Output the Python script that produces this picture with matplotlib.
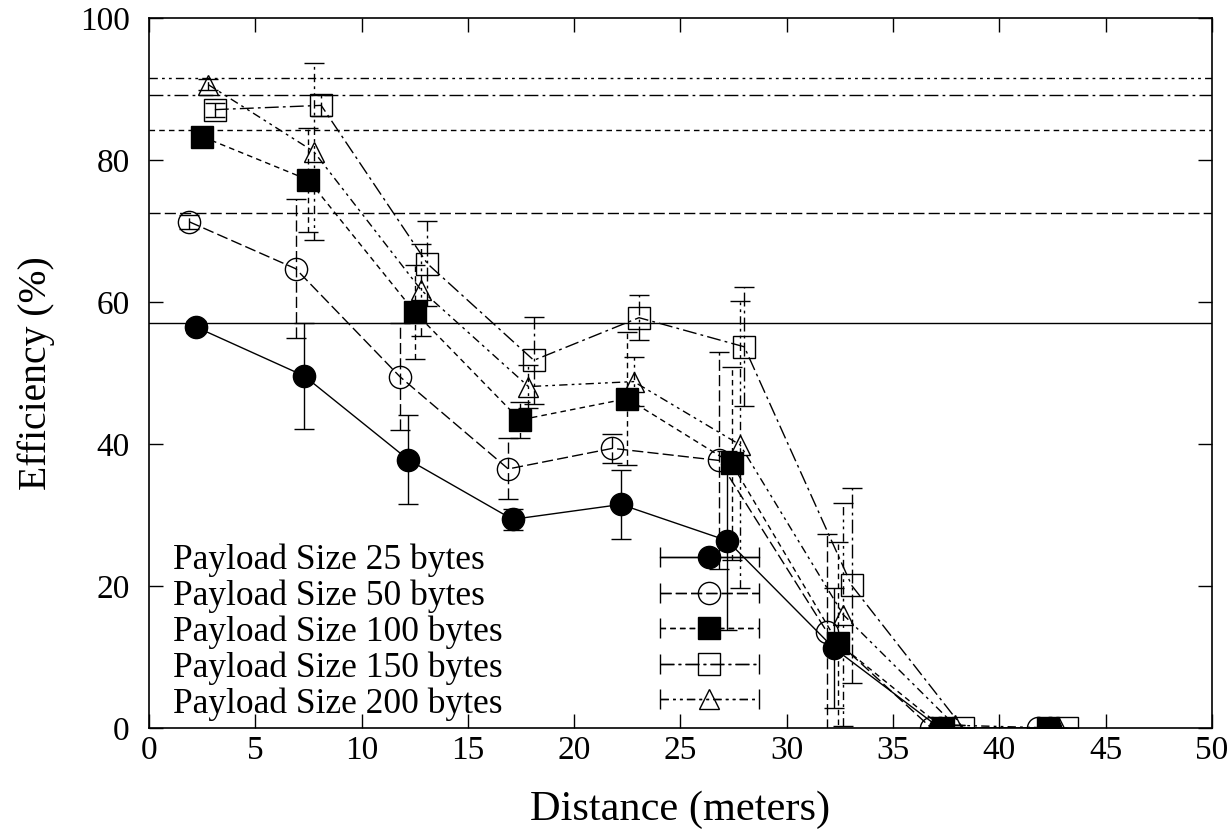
import numpy as np
import matplotlib
matplotlib.use('Agg')
import matplotlib.pyplot as plt
from matplotlib.container import ErrorbarContainer
from matplotlib.legend_handler import HandlerErrorbar

plt.rcParams['font.family'] = ['Liberation Serif', 'DejaVu Serif']

# Measured efficiency (%) vs distance (m), one set per payload size
labels = ['Payload Size 25 bytes', 'Payload Size 50 bytes', 'Payload Size 100 bytes',
          'Payload Size 150 bytes', 'Payload Size 200 bytes']

x25 = [2.2, 7.3, 12.2, 17.1, 22.2, 27.2, 32.2, 37.2, 42.4]
eff25 = [56.5, 49.6, 37.8, 29.4, 31.5, 26.4, 11.3, 0, 0]
err25 = [0.8, 7.5, 6.3, 1.5, 4.9, 12.6, 8.5, 0, 0]

x50 = [1.9, 6.9, 11.8, 16.9, 21.8, 26.8, 31.9, 36.8, 41.8]
eff50 = [71.3, 64.7, 49.5, 36.5, 39.4, 37.7, 13.5, 0, 0]
err50 = [1.0, 9.8, 7.5, 4.3, 2.0, 15.3, 13.8, 0, 0]

x100 = [2.5, 7.5, 12.5, 17.45, 22.5, 27.4, 32.4, 37.35, 42.3]
eff100 = [83.3, 77.2, 58.6, 43.4, 46.4, 37.3, 12.0, 0, 0]
err100 = [0.8, 7.3, 6.6, 2.5, 9.4, 13.6, 14.2, 0, 0]

x150 = [3.1, 8.1, 13.1, 18.1, 23.05, 28.0, 33.05, 38.3, 43.2]
eff150 = [87.1, 87.7, 65.4, 51.8, 57.8, 53.7, 20.1, 0, 0]
err150 = [1.0, 1.5, 6.0, 6.1, 3.2, 8.4, 13.7, 0, 0]

x200 = [2.8, 7.75, 12.8, 17.85, 22.8, 27.8, 32.65, 37.9, 42.8]
eff200 = [90.6, 81.2, 61.7, 48.1, 48.8, 39.9, 16.0, 0.4, 0]
err200 = [0.8, 12.4, 6.5, 3.0, 3.4, 20.2, 15.7, 0, 0]

# theoretical maximum efficiency for each payload size
theory = [57.0, 72.6, 84.2, 89.1, 91.6]

series = [(x25, eff25, err25), (x50, eff50, err50), (x100, eff100, err100),
          (x150, eff150, err150), (x200, eff200, err200)]
markers = ['o', 'o', 's', 's', '^']
filled = [True, False, True, False, False]
dashes = ['-', (0, (8, 3)), (0, (4, 3)), (0, (10, 3, 2, 3)), (0, (6, 3, 2, 3, 2, 3))]
sizes = [16, 16, 15.5, 15.5, 15]

fig = plt.figure(figsize=(12.28, 8.35), dpi=100)
ax = fig.add_axes([0.1213, 0.128, 0.8657, 0.8504])

proxies = []
for (x, y, e), m, fill, ls, ms, t in zip(series, markers, filled, dashes, sizes, theory):
    kw = dict(marker=m, linestyle=ls, color='black', mfc='black' if fill else 'none',
              mec='black', ms=ms, mew=1.0, lw=1.0, capsize=7, elinewidth=1.0, capthick=1.0)
    c = ax.errorbar(x, y, yerr=e, **kw)
    c[2][0].set_linestyle(ls)
    ax.axhline(t, color='black', lw=1.0, linestyle=ls)
    # horizontal-bar proxy for the gnuplot-style key
    p = ax.errorbar([np.nan], [np.nan], xerr=[np.nan], **kw)
    p[2][0].set_linestyle(ls)
    proxies.append(p)

ax.set_xlim(0, 50)
ax.set_ylim(0, 100)
ax.set_xticks(range(0, 51, 5))
ax.set_yticks(range(0, 101, 20))
ax.tick_params(direction='in', top=True, right=True, length=10, width=1, labelsize=24)
ax.tick_params(axis='x', pad=5)
ax.tick_params(axis='y', pad=14)
for s in ax.spines.values():
    s.set_linewidth(1.2)

ax.set_xlabel('Distance (meters)', fontsize=30.5, labelpad=18)
ax.set_ylabel('Efficiency (%)', fontsize=28.5, labelpad=18)

blank = [plt.Line2D([], [], linestyle='none') for _ in labels]
legA = ax.legend(blank, labels, loc='center left', bbox_to_anchor=(0.0226, 0.135),
                 frameon=False, handlelength=0, handletextpad=0, borderpad=0,
                 borderaxespad=0, fontsize=25.5, labelspacing=0.07)
ax.add_artist(legA)
ax.legend(proxies, [''] * len(labels), loc='center', bbox_to_anchor=(0.527, 0.135),
          frameon=False, handlelength=2.8, handletextpad=0, borderpad=0,
          borderaxespad=0, fontsize=25.5, labelspacing=0.07,
          handler_map={ErrorbarContainer: HandlerErrorbar(xerr_size=1.4)})

fig.savefig('out.png', dpi=100)
